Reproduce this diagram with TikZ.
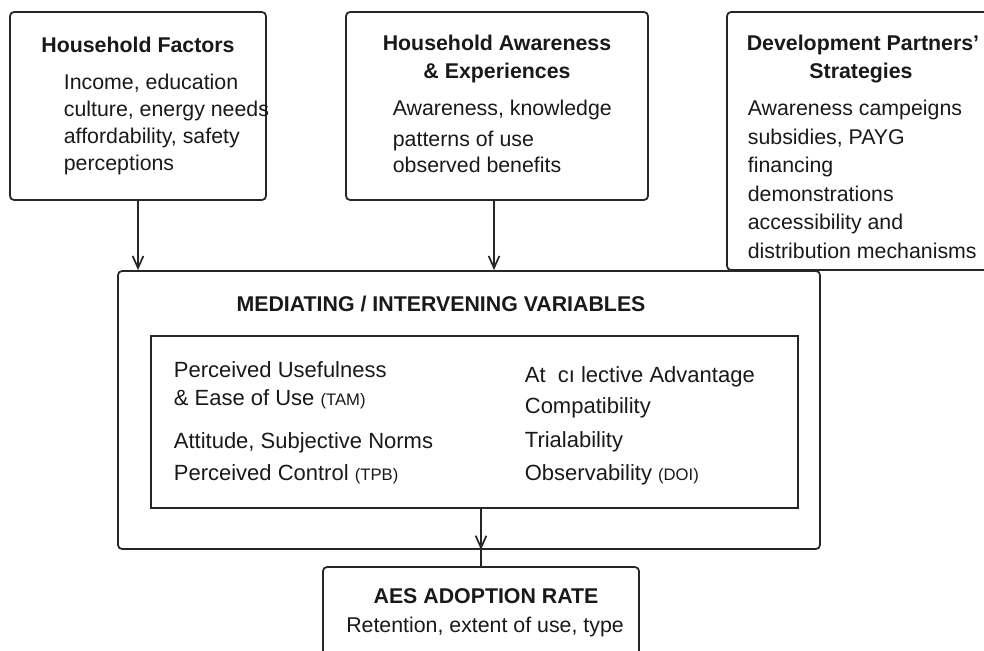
\documentclass[tikz,border=0pt]{standalone}
\usepackage{fontspec}
\setmainfont{Liberation Sans}
\usetikzlibrary{arrows.meta, positioning}

\begin{document}
\begin{tikzpicture}

\newlength{\px}
\setlength{\px}{0.75pt}

%\draw[help lines] (0,0) grid (984\px,-650\px);
\useasboundingbox (0,0) rectangle (984\px,-650\px);
\clip (0,0) rectangle (984\px,-650\px);

% styles
\pgfkeys{/tikz/every path/.style={line width=1.3pt}} % all lines
\pgfkeys{/box/.style={draw=black!85, rounded corners=3pt, inner sep=0}} % outer boxes
\pgfkeys{/inbox/.style={draw=black!85, inner sep=0}} % inner box, square corners
\pgfkeys{/ttl/.style={inner sep=0, anchor=base, text=black!90, font=\fontsize{16}{19}\selectfont\bfseries}} % box titles
\pgfkeys{/txt/.style={inner sep=0, anchor=base west, text=black!90, font=\fontsize{16}{19}\selectfont}} % body lines
\pgfkeys{/arr/.style={draw=black!85, -{Straight Barb[length=9pt, width=8pt]}}} % arrowheads
\newcommand{\sm}[1]{{\fontsize{12.5}{15}\selectfont #1}}

% boxes
\node[/box, minimum width=256\px, minimum height=188\px] (hf) at (138\px,-106\px) {};
\node[/box, minimum width=302\px, minimum height=188\px] (ha) at (497\px,-106\px) {};
\node[/box, minimum width=265\px, minimum height=258\px] (dp) at (859.5\px,-141\px) {};
\node[/box, minimum width=702\px, minimum height=278\px] (med) at (469\px,-410\px) {};
\node[/inbox, minimum width=647\px, minimum height=172\px] (vars) at (474.5\px,-422\px) {};
\node[/box, minimum width=316\px, minimum height=93\px] (aes) at (481\px,-613.5\px) {};

% titles
\node[/ttl] (hf-t) at (138\px,-52\px) {Household Factors};
\node[/ttl] (ha-t1) at (497\px,-50\px) {Household Awareness};
\node[/ttl] (ha-t2) at (497\px,-78\px) {\& Experiences};
\node[/ttl] (dp-t1) at (863\px,-50\px) {Development Partners’};
\node[/ttl] (dp-t2) at (861\px,-78\px) {Strategies};
\node[/ttl] (med-t) at (441\px,-311\px) {MEDIATING / INTERVENING VARIABLES};
\node[/ttl] (aes-t) at (486\px,-603\px) {AES ADOPTION RATE};

% body lines
\foreach \yy/\txt [count=\i] in {89/{Income, education}, 116/{culture, energy needs}, 143/{affordability, safety}, 170/{perceptions}} {
\node[/txt] (hf-\i) at (63\px,-\yy\px) {\txt};
}
\foreach \yy/\txt [count=\i] in {115/{Awareness, knowledge}, 146/{patterns of use}, 172/{observed benefits}} {
\node[/txt] (ha-\i) at (392\px,-\yy\px) {\txt};
}
\foreach \yy/\txt [count=\i] in {115/{Awareness campeigns}, 144/{subsidies, PAYG}, 172/{financing}, 201/{demonstrations}, 229/{accessibility and}, 258/{distribution mechanisms}} {
\node[/txt] (dp-\i) at (747\px,-\yy\px) {\txt};
}
\foreach \yy/\txt [count=\i] in {377/{Perceived Usefulness}, 405/{\& Ease of Use \sm{(TAM)}}, 448/{Attitude, Subjective Norms}, 480/{Perceived Control \sm{(TPB)}}} {
\node[/txt, font=\fontsize{16.5}{20}\selectfont] (tam-\i) at (173\px,-\yy\px) {\txt};
}
\foreach \yy/\txt [count=\i] in {382/{At~~cı lective Advantage}, 413/{Compatibility}, 447/{Trialability}, 480/{Observability \sm{(DOI)}}} {
\node[/txt, font=\fontsize{16.5}{20}\selectfont] (doi-\i) at (524\px,-\yy\px) {\txt};
}
\node[/ttl, font=\fontsize{16}{19}\selectfont] (aes-1) at (485\px,-632\px) {Retention, extent of use, type};

% arrows
\draw[/arr] (hf.south) -- (hf.south |- med.north);
\draw[/arr] ([xshift=-3\px]ha.south) -- ([xshift=-3\px]ha.south |- med.north);
\draw[/arr] (vars.south -| aes.north) -- (med.south -| aes.north);
\draw[draw=black!85] (med.south -| aes.north) -- (aes.north);

\end{tikzpicture}
\end{document}
